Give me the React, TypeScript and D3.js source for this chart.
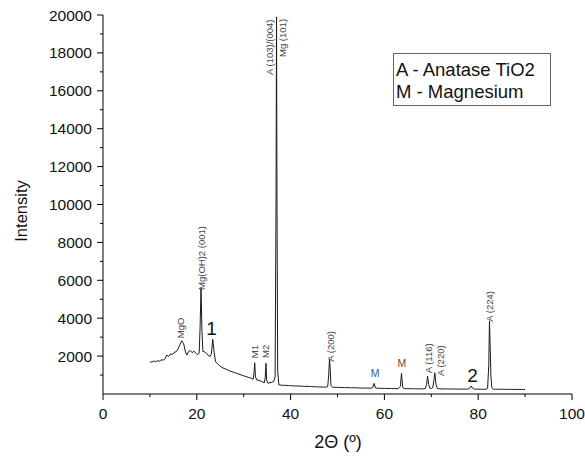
import React from "react";
import * as d3 from "d3";

const twoTheta: number[] = [
  10.0, 10.4, 10.8, 11.2, 11.6, 12.0, 12.4, 12.8, 13.2, 13.6, 14.0, 14.4, 14.8, 15.2, 15.6, 16.0, 16.4, 16.8, 17.2, 17.6,
  17.9, 18.2, 18.6, 19.0, 19.4, 19.8, 20.2, 20.5, 20.7, 20.9, 21.1, 21.3, 21.6, 22.0, 22.4, 22.8, 23.1, 23.4, 23.7, 24.0,
  24.4, 24.8, 25.2, 25.6, 26.0, 26.5, 27.0, 27.5, 28.0, 28.5, 29.0, 29.5, 30.0, 30.5, 31.0, 31.5, 32.0, 32.2, 32.35, 32.5,
  32.8, 33.2, 33.6, 34.0, 34.4, 34.6, 34.75, 34.9, 35.2, 35.6, 36.0, 36.4, 36.7, 36.9, 37.0, 37.1, 37.25, 37.5, 38.0, 38.5,
  39.0, 39.5, 40.0, 40.5, 41.0, 41.5, 42.0, 42.5, 43.0, 43.5, 44.0, 44.5, 45.0, 45.5, 46.0, 46.5, 47.0, 47.5, 47.9, 48.1,
  48.3, 48.45, 48.6, 48.9, 49.5, 50.0, 50.5, 51.0, 51.5, 52.0, 52.5, 53.0, 53.5, 54.0, 54.5, 55.0, 55.5, 56.0, 56.5, 57.0,
  57.5, 57.8, 58.1, 58.5, 59.0, 59.5, 60.0, 60.5, 61.0, 61.5, 62.0, 62.5, 63.0, 63.4, 63.65, 63.9, 64.2, 64.7, 65.2, 65.7,
  66.2, 66.7, 67.2, 67.7, 68.2, 68.7, 69.0, 69.2, 69.45, 69.7, 70.0, 70.3, 70.55, 70.75, 71.0, 71.3, 71.8, 72.3, 72.8, 73.3,
  73.8, 74.3, 74.8, 75.3, 75.8, 76.3, 76.8, 77.3, 77.8, 78.2, 78.5, 78.8, 79.2, 79.7, 80.2, 80.7, 81.2, 81.7, 82.0, 82.25,
  82.4, 82.55, 82.7, 82.9, 83.2, 83.7, 84.2, 84.7, 85.2, 85.7, 86.2, 86.7, 87.2, 87.7, 88.2, 88.7, 89.2, 89.7, 90.0,
];
const intensity: number[] = [
  1705, 1680, 1740, 1700, 1760, 1730, 1800, 1785, 1850, 2050, 1980, 2120, 2080, 2200, 2230, 2380, 2600, 2810, 2650, 2200,
  2060, 2230, 2300, 2180, 2260, 2150, 2080, 2150, 3500, 5580, 3300, 2250, 2230, 2150, 2050, 1970, 2100, 2890, 2200, 1700,
  1600, 1500, 1430, 1370, 1330, 1280, 1220, 1180, 1130, 1090, 1050, 1000, 960, 920, 880, 840, 780, 1100, 1650, 900,
  740, 720, 690, 640, 600, 900, 1620, 700, 560, 600, 620, 660, 900, 10500, 19900, 10200, 1200, 480, 470, 455,
  460, 440, 445, 430, 425, 430, 410, 415, 400, 405, 390, 395, 380, 385, 370, 375, 360, 365, 380, 900,
  1850, 1300, 450, 360, 350, 355, 340, 345, 335, 340, 330, 325, 330, 320, 325, 315, 318, 310, 315, 305,
  330, 560, 320, 300, 305, 295, 300, 290, 295, 285, 290, 280, 290, 400, 1090, 350, 290, 280, 285, 275,
  280, 270, 275, 268, 272, 290, 500, 950, 500, 310, 290, 330, 700, 1120, 500, 290, 275, 268, 272, 265,
  268, 260, 265, 258, 262, 255, 260, 255, 262, 300, 420, 310, 258, 255, 250, 255, 248, 255, 300, 1500,
  3850, 2600, 1000, 330, 255, 250, 255, 245, 250, 245, 248, 240, 245, 240, 245, 238, 242, 238, 240,
];

const xTicks: number[] = [0, 20, 40, 60, 80, 100];
const xMinorTicks: number[] = [10, 30, 50, 70, 90];
const yTicks: number[] = [2000, 4000, 6000, 8000, 10000, 12000, 14000, 16000, 18000, 20000];
const yMinorTicks: number[] = [1000, 3000, 5000, 7000, 9000, 11000, 13000, 15000, 17000, 19000];

// rotated peak labels: text, 2θ position, intensity at bottom of text
const peakLabelText: string[] = ["MgO", "Mg(OH)2 (001)", "M1", "M2", "A (103)/(004)", "Mg (101)", "A (200)", "A (116)", "A (220)", "A (224)"];
const peakLabelX: number[] = [16.55, 21.05, 32.2, 34.75, 35.6, 38.3, 48.5, 69.35, 72.0, 82.5];
const peakLabelY: number[] = [2940, 5490, 1885, 1900, 16835, 17785, 1705, 1092, 950, 3815];

// upright markers
const markText: string[] = ["1", "M", "M", "2"];
const markX: number[] = [23.15, 58.0, 63.7, 78.8];
const markY: number[] = [3450, 1125, 1650, 1000];

const legendLines: string[] = ["A - Anatase TiO2", "M - Magnesium"];

export default function App() {
  const W = 585, H = 457;
  const x = d3.scaleLinear().domain([0, 100]).range([103, 572]);
  const y = d3.scaleLinear().domain([0, 20000]).range([394, 15]);
  const pts: [number, number][] = twoTheta.map((t, i) => [t, intensity[i]]);
  const line = d3.line<[number, number]>().x(d => x(d[0])).y(d => y(d[1]));
  const font = "Liberation Sans, Arial, sans-serif";
  const markFont = [19, 10.5, 10.5, 19];
  const markColor = ["#111", "#3d5a86", "#7a3e2c", "#111"];

  return (
    <svg width={W} height={H} style={{ position: "absolute", left: 0, top: 0, background: "#fff" }} fontFamily={font}>
      <rect width={W} height={H} fill="#fff" />
      {/* axes */}
      <line x1={x(0)} x2={x(100)} y1={y(0)} y2={y(0)} stroke="#000" strokeWidth={1} />
      <line x1={x(0)} x2={x(0)} y1={y(0)} y2={y(20000)} stroke="#000" strokeWidth={1} />
      {xTicks.map(t => (
        <g key={"xt" + t}>
          <line x1={x(t)} x2={x(t)} y1={y(0)} y2={y(0) + 6} stroke="#000" />
          <text x={x(t)} y={y(0) + 25} fontSize={15.5} textAnchor="middle" fill="#111">{t}</text>
        </g>
      ))}
      {xMinorTicks.map(t => (
        <line key={"xm" + t} x1={x(t)} x2={x(t)} y1={y(0)} y2={y(0) + 3} stroke="#000" />
      ))}
      {yTicks.map(t => (
        <g key={"yt" + t}>
          <line x1={x(0) - 6} x2={x(0)} y1={y(t)} y2={y(t)} stroke="#000" />
          <text x={x(0) - 11} y={y(t) + 5.5} fontSize={15.5} textAnchor="end" fill="#111">{t}</text>
        </g>
      ))}
      {yMinorTicks.map(t => (
        <line key={"ym" + t} x1={x(0) - 3} x2={x(0)} y1={y(t)} y2={y(t)} stroke="#000" />
      ))}
      <text x={338} y={448} fontSize={18} textAnchor="middle" fill="#111">2Θ (º)</text>
      <text transform={`translate(27,211) rotate(-90)`} fontSize={16.5} textAnchor="middle" fill="#111">Intensity</text>

      {/* pattern */}
      <path d={line(pts) || ""} fill="none" stroke="#1a1a1a" strokeWidth={1} strokeLinejoin="round" />

      {/* peak labels */}
      {peakLabelText.map((s, i) => (
        <text key={"pl" + i} transform={`translate(${x(peakLabelX[i])},${y(peakLabelY[i])}) rotate(-90)`}
          fontSize={9.5} fill="#444" dominantBaseline="central">{s}</text>
      ))}
      {markText.map((s, i) => (
        <text key={"mk" + i} x={x(markX[i])} y={y(markY[i])} fontSize={markFont[i]} fill={markColor[i]}
          textAnchor="middle" dominantBaseline="central">{s}</text>
      ))}

      {/* legend */}
      <rect x={393.5} y={53.5} width={157} height={52} fill="#fff" stroke="#666" strokeWidth={1} />
      {legendLines.map((s, i) => (
        <text key={"lg" + i} x={396} y={76 + i * 21.5} fontSize={18.5} fill="#111">{s}</text>
      ))}
    </svg>
  );
}
